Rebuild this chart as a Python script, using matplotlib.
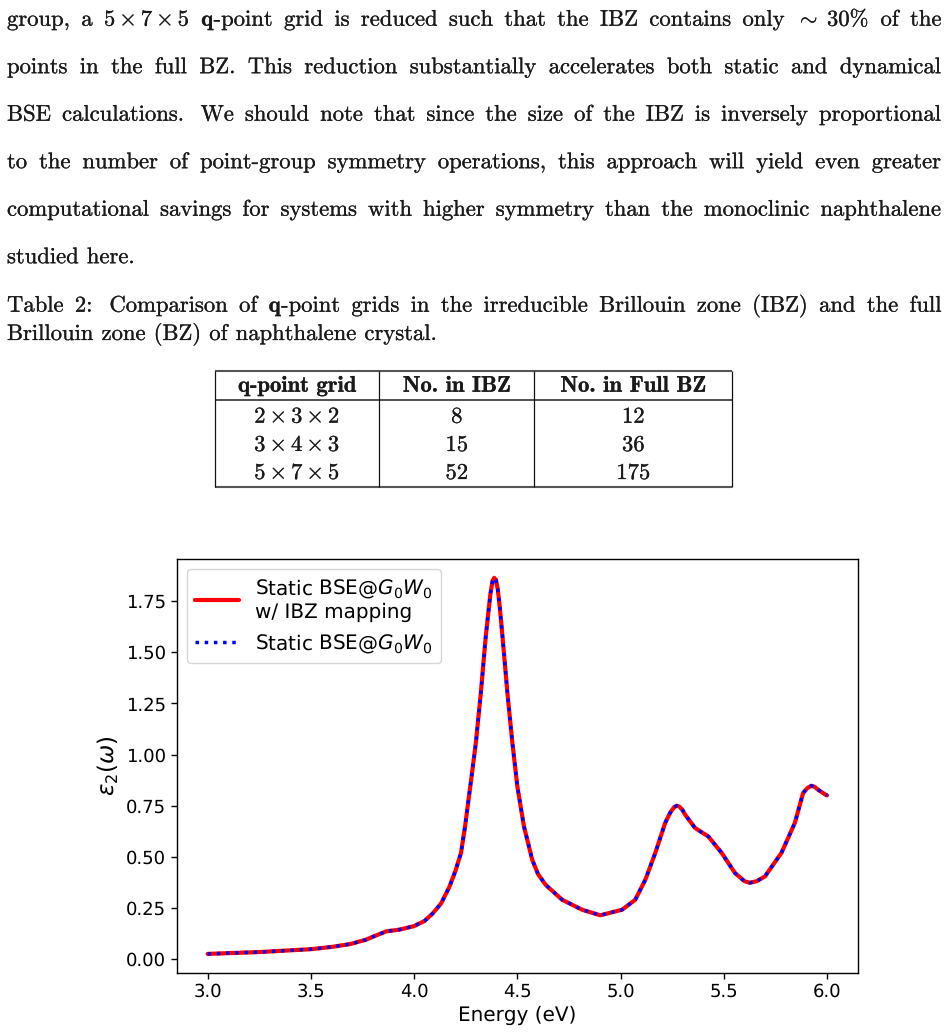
import re
import matplotlib
matplotlib.use('Agg')
import matplotlib.pyplot as plt
import matplotlib.patheffects as pe
from matplotlib.lines import Line2D

plt.rcParams['text.hinting'] = 'no_hinting'
plt.rcParams['text.hinting_factor'] = 1

# ---------------- data ----------------
body_lines = [
    "group, a $5\\times7\\times5$ **q**-point grid is reduced such that the IBZ contains only $\\sim\\;30\\%$ of the",
    "points in the full BZ. This reduction substantially accelerates both static and dynamical",
    "BSE calculations.  We should note that since the size of the IBZ is inversely proportional",
    "to the number of point-group symmetry operations, this approach will yield even greater",
    "computational savings for systems with higher symmetry than the monoclinic naphthalene",
    "studied here.",
]
caption_lines = [
    "Table 2:  Comparison of **q**-point grids in the irreducible Brillouin zone (IBZ) and the full",
    "Brillouin zone (BZ) of naphthalene crystal.",
]
table_header = ["q-point grid", "No. in IBZ", "No. in Full BZ"]
table_grids = ["$2\\times3\\times2$", "$3\\times4\\times3$", "$5\\times7\\times5$"]
table_ibz = ["8", "15", "52"]
table_full = ["12", "36", "175"]

energy = [3.00, 3.25, 3.50, 3.60, 3.69, 3.765, 3.82, 3.864, 3.93, 4.00,
          4.05, 4.09, 4.13, 4.17, 4.20, 4.227, 4.247, 4.267, 4.283, 4.299,
          4.323, 4.347, 4.36, 4.37, 4.38, 4.388, 4.396, 4.405, 4.415, 4.428,
          4.452, 4.476, 4.50, 4.532, 4.572, 4.60, 4.637, 4.717, 4.814, 4.902,
          5.007, 5.071, 5.12, 5.168, 5.216, 5.24, 5.26, 5.272, 5.285, 5.30,
          5.313, 5.361, 5.40, 5.425, 5.49, 5.554, 5.60, 5.626, 5.66, 5.699,
          5.779, 5.844, 5.884, 5.905, 5.924, 5.94, 5.956, 5.993, 6.00]
eps2 = [0.024, 0.033, 0.047, 0.058, 0.072, 0.093, 0.116, 0.134, 0.143, 0.160,
        0.185, 0.222, 0.270, 0.350, 0.430, 0.518, 0.650, 0.805, 0.930, 1.056,
        1.300, 1.578, 1.700, 1.790, 1.850, 1.865, 1.855, 1.810, 1.720, 1.578,
        1.300, 1.056, 0.844, 0.648, 0.485, 0.415, 0.362, 0.289, 0.240, 0.213,
        0.240, 0.289, 0.387, 0.518, 0.665, 0.715, 0.743, 0.749, 0.745, 0.728,
        0.705, 0.640, 0.615, 0.599, 0.518, 0.420, 0.380, 0.372, 0.380, 0.403,
        0.518, 0.665, 0.811, 0.836, 0.847, 0.842, 0.828, 0.803, 0.800]
xticks = [3.0, 3.5, 4.0, 4.5, 5.0, 5.5, 6.0]
xtick_labels = ["3.0", "3.5", "4.0", "4.5", "5.0", "5.5", "6.0"]
yticks = [0.0, 0.25, 0.5, 0.75, 1.0, 1.25, 1.5, 1.75]
ytick_labels = ["0.00", "0.25", "0.50", "0.75", "1.00", "1.25", "1.50", "1.75"]
label_ibz = "Static BSE@$G_0W_0$\nw/ IBZ mapping"
label_full = "Static BSE@$G_0W_0$"

# ---------------- figure ----------------
W, H = 948, 1034
fig = plt.figure(figsize=(W / 100, H / 100), dpi=100)
renderer = fig.canvas.get_renderer()
FS = 16.3
EM = FS * 100 / 72
STROKE = [pe.withStroke(linewidth=0.18, foreground='#1a1a1a')]

STY = {'r': dict(family='cmr10'),
       'b': dict(family='cmb10'),
       'm': dict(family='cmr10', math_fontfamily='cm')}


def put(s, st, x, y, fs=FS, ha='left'):
    return fig.text(x / W, 1 - y / H, s, fontsize=fs, ha=ha, va='baseline',
                    color='#1a1a1a', path_effects=STROKE, **STY[st])


def pieces(word):
    out = []
    for tok in re.split(r'(\*\*.*?\*\*|\$.*?\$)', word):
        if not tok:
            continue
        if tok.startswith('**'):
            out.append((tok[2:-2], 'b'))
        elif tok.startswith('$'):
            out.append((tok, 'm'))
        else:
            out.append((tok, 'r'))
    return out


def width(s, st):
    t = put(s, st, 0, 0)
    w = t.get_window_extent(renderer).width
    t.remove()
    return w


def layout_line(line, y, x0=7, x1=941, justify=True):
    parts = re.split(r'( +)', line)
    words, weights = [], []
    for p in parts:
        if p.startswith(' '):
            weights.append(1.5 if len(p) > 1 else 1.0)
        elif p:
            words.append(pieces(p))
    wws = [[width(s, st) for s, st in w] for w in words]
    total = sum(sum(w) for w in wws)
    if justify and weights:
        g = (x1 - x0 - total) / sum(weights)
    else:
        g = 0.36 * EM
    x = x0
    for i, (w, ww) in enumerate(zip(words, wws)):
        for (s, st), pw in zip(w, ww):
            put(s, st, x, y)
            x += pw + (0.5 if st == 'b' else 0)
        if i < len(weights):
            x += g * weights[i]


for k, line in enumerate(body_lines):
    layout_line(line, 25.7 + 47.5 * k, justify=(k < len(body_lines) - 1))
layout_line(caption_lines[0], 311.7, justify=True)
layout_line(caption_lines[1], 340.0, justify=False)

# ---------------- table ----------------
tl, tr, tt, tb = 215, 732.3, 371, 487.3
hsep = 400
vseps = [379.3, 534.3]


def fline(xs, ys, lw, color):
    fig.add_artist(Line2D([x / W for x in xs], [1 - y / H for y in ys], lw=lw, color=color,
                          solid_capstyle='butt'))


fline([tl, tr], [tt, tt], 1.5, '#555555')
fline([tl, tr], [tb, tb], 1.5, '#555555')
fline([tl, tr], [hsep, hsep], 1.1, '#222222')
for xv in [tl, tr] + vseps:
    fline([xv, xv], [tt, tb], 0.9, '#111111')

centers = [(tl + vseps[0]) / 2, (vseps[0] + vseps[1]) / 2, (vseps[1] + tr) / 2]
for c, h in zip(centers, table_header):
    put(h, 'b', c, 391.7, ha='center')
row_y = [422.7, 451.0, 479.0]
for i in range(3):
    put(table_grids[i], 'm', centers[0], row_y[i], ha='center')
    put(table_ibz[i], 'r', centers[1], row_y[i], ha='center')
    put(table_full[i], 'r', centers[2], row_y[i], ha='center')

# ---------------- chart ----------------
ax_l, ax_r, ax_t, ax_b = 176.7, 858.0, 559.0, 972.7
ax = fig.add_axes([ax_l / W, 1 - ax_b / H, (ax_r - ax_l) / W, (ax_b - ax_t) / H])
ax.plot(energy, eps2, color='red', lw=3.0, ls='-', label=label_ibz,
        solid_joinstyle='round', solid_capstyle='round')
ax.plot(energy, eps2, color='blue', lw=2.5, ls=':', label=label_full)
ax.set_xticks(xticks)
ax.set_xticklabels(xtick_labels)
ax.set_yticks(yticks)
ax.set_yticklabels(ytick_labels)
ax.tick_params(labelsize=13, length=4, width=1.0)
for sp in ax.spines.values():
    sp.set_linewidth(1.0)
ax.set_xlabel("Energy (eV)", fontsize=14.5, labelpad=4)
ax.set_ylabel(r"$\varepsilon_2(\omega)$", fontsize=16.5, labelpad=4)
ax.legend(loc='upper left', fontsize=14.5, handlelength=2.2, borderaxespad=0.5)

fig.savefig('out.png', dpi=100)
